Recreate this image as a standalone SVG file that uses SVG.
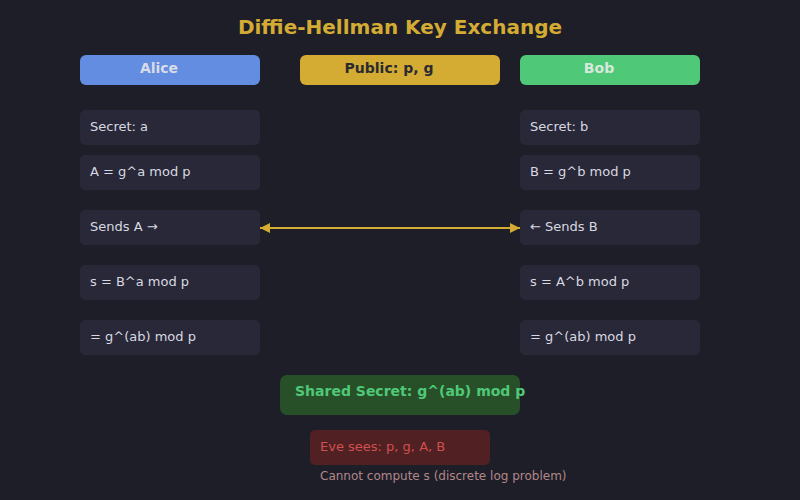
<svg xmlns="http://www.w3.org/2000/svg" width="800" height="500" viewBox="0 0 800 500">
<defs>
<style>
text{font-family:"DejaVu Sans",sans-serif}
.hd{font-size:14px;font-weight:bold;text-anchor:middle}
.bx{fill:#282838}
.t{font-size:13px;fill:#d8d8e0}
</style>
<marker id="ah" viewBox="0 0 10 10" refX="10" refY="5" markerWidth="10" markerHeight="10" markerUnits="userSpaceOnUse" orient="auto-start-reverse"><path d="M0,0L10,5L0,10z" fill="#d4ac34"/></marker>
</defs>
<rect width="800" height="500" fill="#1e1e28"/>
<text x="400" y="34" text-anchor="middle" font-size="20" font-weight="bold" fill="#d4ac34">Diffie-Hellman Key Exchange</text>
<g id="alice"><rect x="80" y="55" width="180" height="30" rx="6" fill="#628de0"/><text class="hd" x="159" y="73" fill="#d8dce8">Alice</text></g>
<g id="public"><rect x="300" y="55" width="200" height="30" rx="6" fill="#d4ac34"/><text class="hd" x="389" y="73" fill="#2a2a30">Public: p, g</text></g>
<g id="bob"><rect x="520" y="55" width="180" height="30" rx="6" fill="#4fc878"/><text class="hd" x="599" y="73" fill="#d8e8dc">Bob</text></g>
<g id="a1"><rect class="bx" x="80" y="110" width="180" height="35" rx="5"/><text class="t" x="90" y="131">Secret: a</text></g>
<g id="a2"><rect class="bx" x="80" y="155" width="180" height="35" rx="5"/><text class="t" x="90" y="176">A = g^a mod p</text></g>
<g id="a3"><rect class="bx" x="80" y="210" width="180" height="35" rx="5"/><text class="t" x="90" y="231">Sends A →</text></g>
<g id="a4"><rect class="bx" x="80" y="265" width="180" height="35" rx="5"/><text class="t" x="90" y="286">s = B^a mod p</text></g>
<g id="a5"><rect class="bx" x="80" y="320" width="180" height="35" rx="5"/><text class="t" x="90" y="341">= g^(ab) mod p</text></g>
<g id="b1"><rect class="bx" x="520" y="110" width="180" height="35" rx="5"/><text class="t" x="530" y="131">Secret: b</text></g>
<g id="b2"><rect class="bx" x="520" y="155" width="180" height="35" rx="5"/><text class="t" x="530" y="176">B = g^b mod p</text></g>
<g id="b3"><rect class="bx" x="520" y="210" width="180" height="35" rx="5"/><text class="t" x="530" y="231">← Sends B</text></g>
<g id="b4"><rect class="bx" x="520" y="265" width="180" height="35" rx="5"/><text class="t" x="530" y="286">s = A^b mod p</text></g>
<g id="b5"><rect class="bx" x="520" y="320" width="180" height="35" rx="5"/><text class="t" x="530" y="341">= g^(ab) mod p</text></g>
<g id="connectors"><line x1="260" y1="228" x2="520" y2="228" stroke="#d4ac34" stroke-width="2" marker-start="url(#ah)" marker-end="url(#ah)"/></g>
<g id="shared"><rect x="280" y="375" width="240" height="40" rx="7" fill="#285028"/><text x="295" y="396" font-size="14" font-weight="bold" fill="#4fc878">Shared Secret: g^(ab) mod p</text></g>
<g id="eve"><rect x="310" y="430" width="180" height="35" rx="5" fill="#512022"/><text x="320" y="451" font-size="13" fill="#d05050">Eve sees: p, g, A, B</text><text x="320" y="480" font-size="12" fill="#b08888">Cannot compute s (discrete log problem)</text></g>
</svg>
